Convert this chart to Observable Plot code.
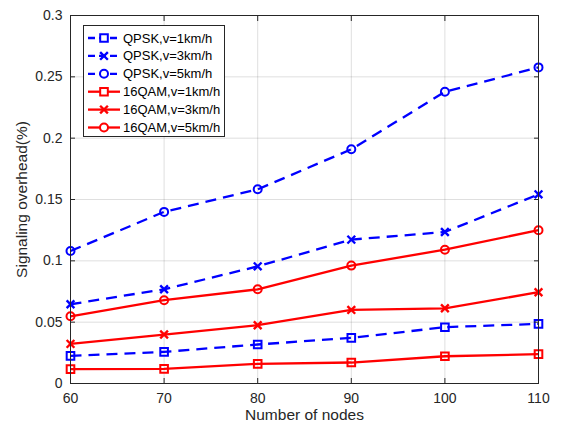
<!DOCTYPE html>
<html><head><meta charset="utf-8">
<script src="https://cdn.jsdelivr.net/npm/d3@7"></script>
<script src="https://cdn.jsdelivr.net/npm/@observablehq/plot@0.6"></script>
<style>
body{margin:0;background:#fff}
#wrap{position:relative;width:562px;height:432px;font-family:"Liberation Sans",Arial,Helvetica,sans-serif}
#legend{position:absolute;left:0;top:0}
</style>
</head><body><div id="wrap"></div>
<script>
const nodes = [60, 70, 80, 90, 100, 110];
const qpsk1 = [0.0225, 0.0258, 0.0318, 0.0372, 0.0459, 0.0486];
const qpsk3 = [0.0646, 0.0768, 0.0955, 0.1173, 0.1235, 0.1542];
const qpsk5 = [0.1080, 0.1399, 0.1583, 0.1909, 0.2378, 0.2577];
const qam1 = [0.0117, 0.0119, 0.0160, 0.0171, 0.0222, 0.0239];
const qam3 = [0.0323, 0.0399, 0.0475, 0.0600, 0.0613, 0.0744];
const qam5 = [0.0548, 0.0679, 0.0768, 0.0961, 0.1091, 0.1250];
const seriesNames = ["QPSK,v=1km/h","QPSK,v=3km/h","QPSK,v=5km/h","16QAM,v=1km/h","16QAM,v=3km/h","16QAM,v=5km/h"];
const yTicks = [0, 0.05, 0.1, 0.15, 0.2, 0.25, 0.3];
const yTickLabels = ["0","0.05","0.1","0.15","0.2","0.25","0.3"];
const xTicks = [60, 70, 80, 90, 100, 110];

const seriesValues = [qpsk1, qpsk3, qpsk5, qam1, qam3, qam5];
const colors = ["#0000ff","#0000ff","#0000ff","#ff0000","#ff0000","#ff0000"];
const dashes = ["11,7","11,7","11,7",null,null,null];
const symbols = ["square","times","circle","square","times","circle"];
const rs = {square: 4.3, times: 3.6, circle: 4.0};

const series = seriesNames.map((name, i) => ({
  name, color: colors[i], dash: dashes[i], symbol: symbols[i],
  data: nodes.map((x, j) => ({x, y: seriesValues[i][j], name}))
}));

const marks = [
  Plot.gridX(xTicks, {stroke: "#262626", strokeOpacity: 0.15}),
  Plot.gridY(yTicks, {stroke: "#262626", strokeOpacity: 0.15}),
];
for (const s of series) {
  marks.push(Plot.line(s.data, {x: "x", y: "y", stroke: s.color, strokeWidth: 2.3, strokeDasharray: s.dash, strokeLinecap: "butt"}));
}
for (const s of series) {
  marks.push(Plot.dot(s.data, {x: "x", y: "y", stroke: s.color, fill: "none", strokeWidth: s.symbol === "times" ? 2.4 : 2, symbol: () => s.symbol, r: rs[s.symbol]}));
}
const fmtY = d => yTickLabels[yTicks.indexOf(d)];
marks.push(
  Plot.axisX({ticks: xTicks, tickSize: 0, tickPadding: 10, fontSize: 14, color: "#262626", label: null}),
  Plot.axisY({ticks: yTicks, tickSize: 0, tickPadding: 8, tickFormat: fmtY, fontSize: 14, color: "#262626", label: null}),
  Plot.axisX({ticks: [], tickSize: 0, fontSize: 15.5, color: "#262626", label: "Number of nodes", labelAnchor: "center", labelArrow: "none", labelOffset: 36.5}),
  Plot.axisY({ticks: [], tickSize: 0, fontSize: 15.5, color: "#262626", label: "Signaling overhead(%)", labelAnchor: "center", labelArrow: "none", labelOffset: 55}),
  Plot.axisX({ticks: xTicks, anchor: "bottom", tickSize: -5, tickFormat: () => "", label: null, stroke: "#262626"}),
  Plot.axisX({ticks: xTicks, anchor: "top", tickSize: -5, tickFormat: () => "", label: null, stroke: "#262626"}),
  Plot.axisY({ticks: yTicks, anchor: "left", tickSize: -5, tickFormat: () => "", label: null, stroke: "#262626"}),
  Plot.axisY({ticks: yTicks, anchor: "right", tickSize: -5, tickFormat: () => "", label: null, stroke: "#262626"}),
  Plot.frame({stroke: "#262626", strokeWidth: 1})
);

const chart = Plot.plot({
  width: 562, height: 432,
  marginLeft: 70, marginRight: 24, marginTop: 15, marginBottom: 49,
  x: {domain: [60, 110]},
  y: {domain: [0, 0.3]},
  style: {fontFamily: '"Liberation Sans", Arial, Helvetica, sans-serif', fontSize: "14px", color: "#262626", background: "#fff"},
  marks
});
const wrap = document.getElementById("wrap");
wrap.appendChild(chart);

// Legend overlay
const lg = d3.select(wrap).append("svg").attr("id", "legend").attr("width", 562).attr("height", 432);
const box = {x: 83.5, y: 25.5, w: 141, h: 111};
lg.append("rect").attr("x", box.x).attr("y", box.y).attr("width", box.w).attr("height", box.h)
  .attr("fill", "#fff").attr("stroke", "#262626").attr("stroke-width", 1);
const symGen = {square: d3.symbolSquare, times: d3.symbolTimes, circle: d3.symbolCircle};
series.forEach((s, i) => {
  const cy = 38 + i * 17.9;
  const g = lg.append("g");
  g.append("line").attr("x1", 88).attr("x2", 120).attr("y1", cy).attr("y2", cy)
    .attr("stroke", s.color).attr("stroke-width", 2.3).attr("stroke-dasharray", s.dash ? "7,4" : null);
  const r = rs[s.symbol];
  g.append("path").attr("transform", `translate(104,${cy})`)
    .attr("d", d3.symbol(symGen[s.symbol], Math.PI * r * r)())
    .attr("fill", s.symbol === "circle" || s.symbol === "square" ? "#fff" : "none")
    .attr("stroke", s.color).attr("stroke-width", s.symbol === "times" ? 2.4 : 2);
  g.append("text").attr("x", 123).attr("y", cy).attr("dy", "0.35em")
    .attr("font-size", 13).attr("fill", "#000").text(s.name);
});
</script>
</body></html>
